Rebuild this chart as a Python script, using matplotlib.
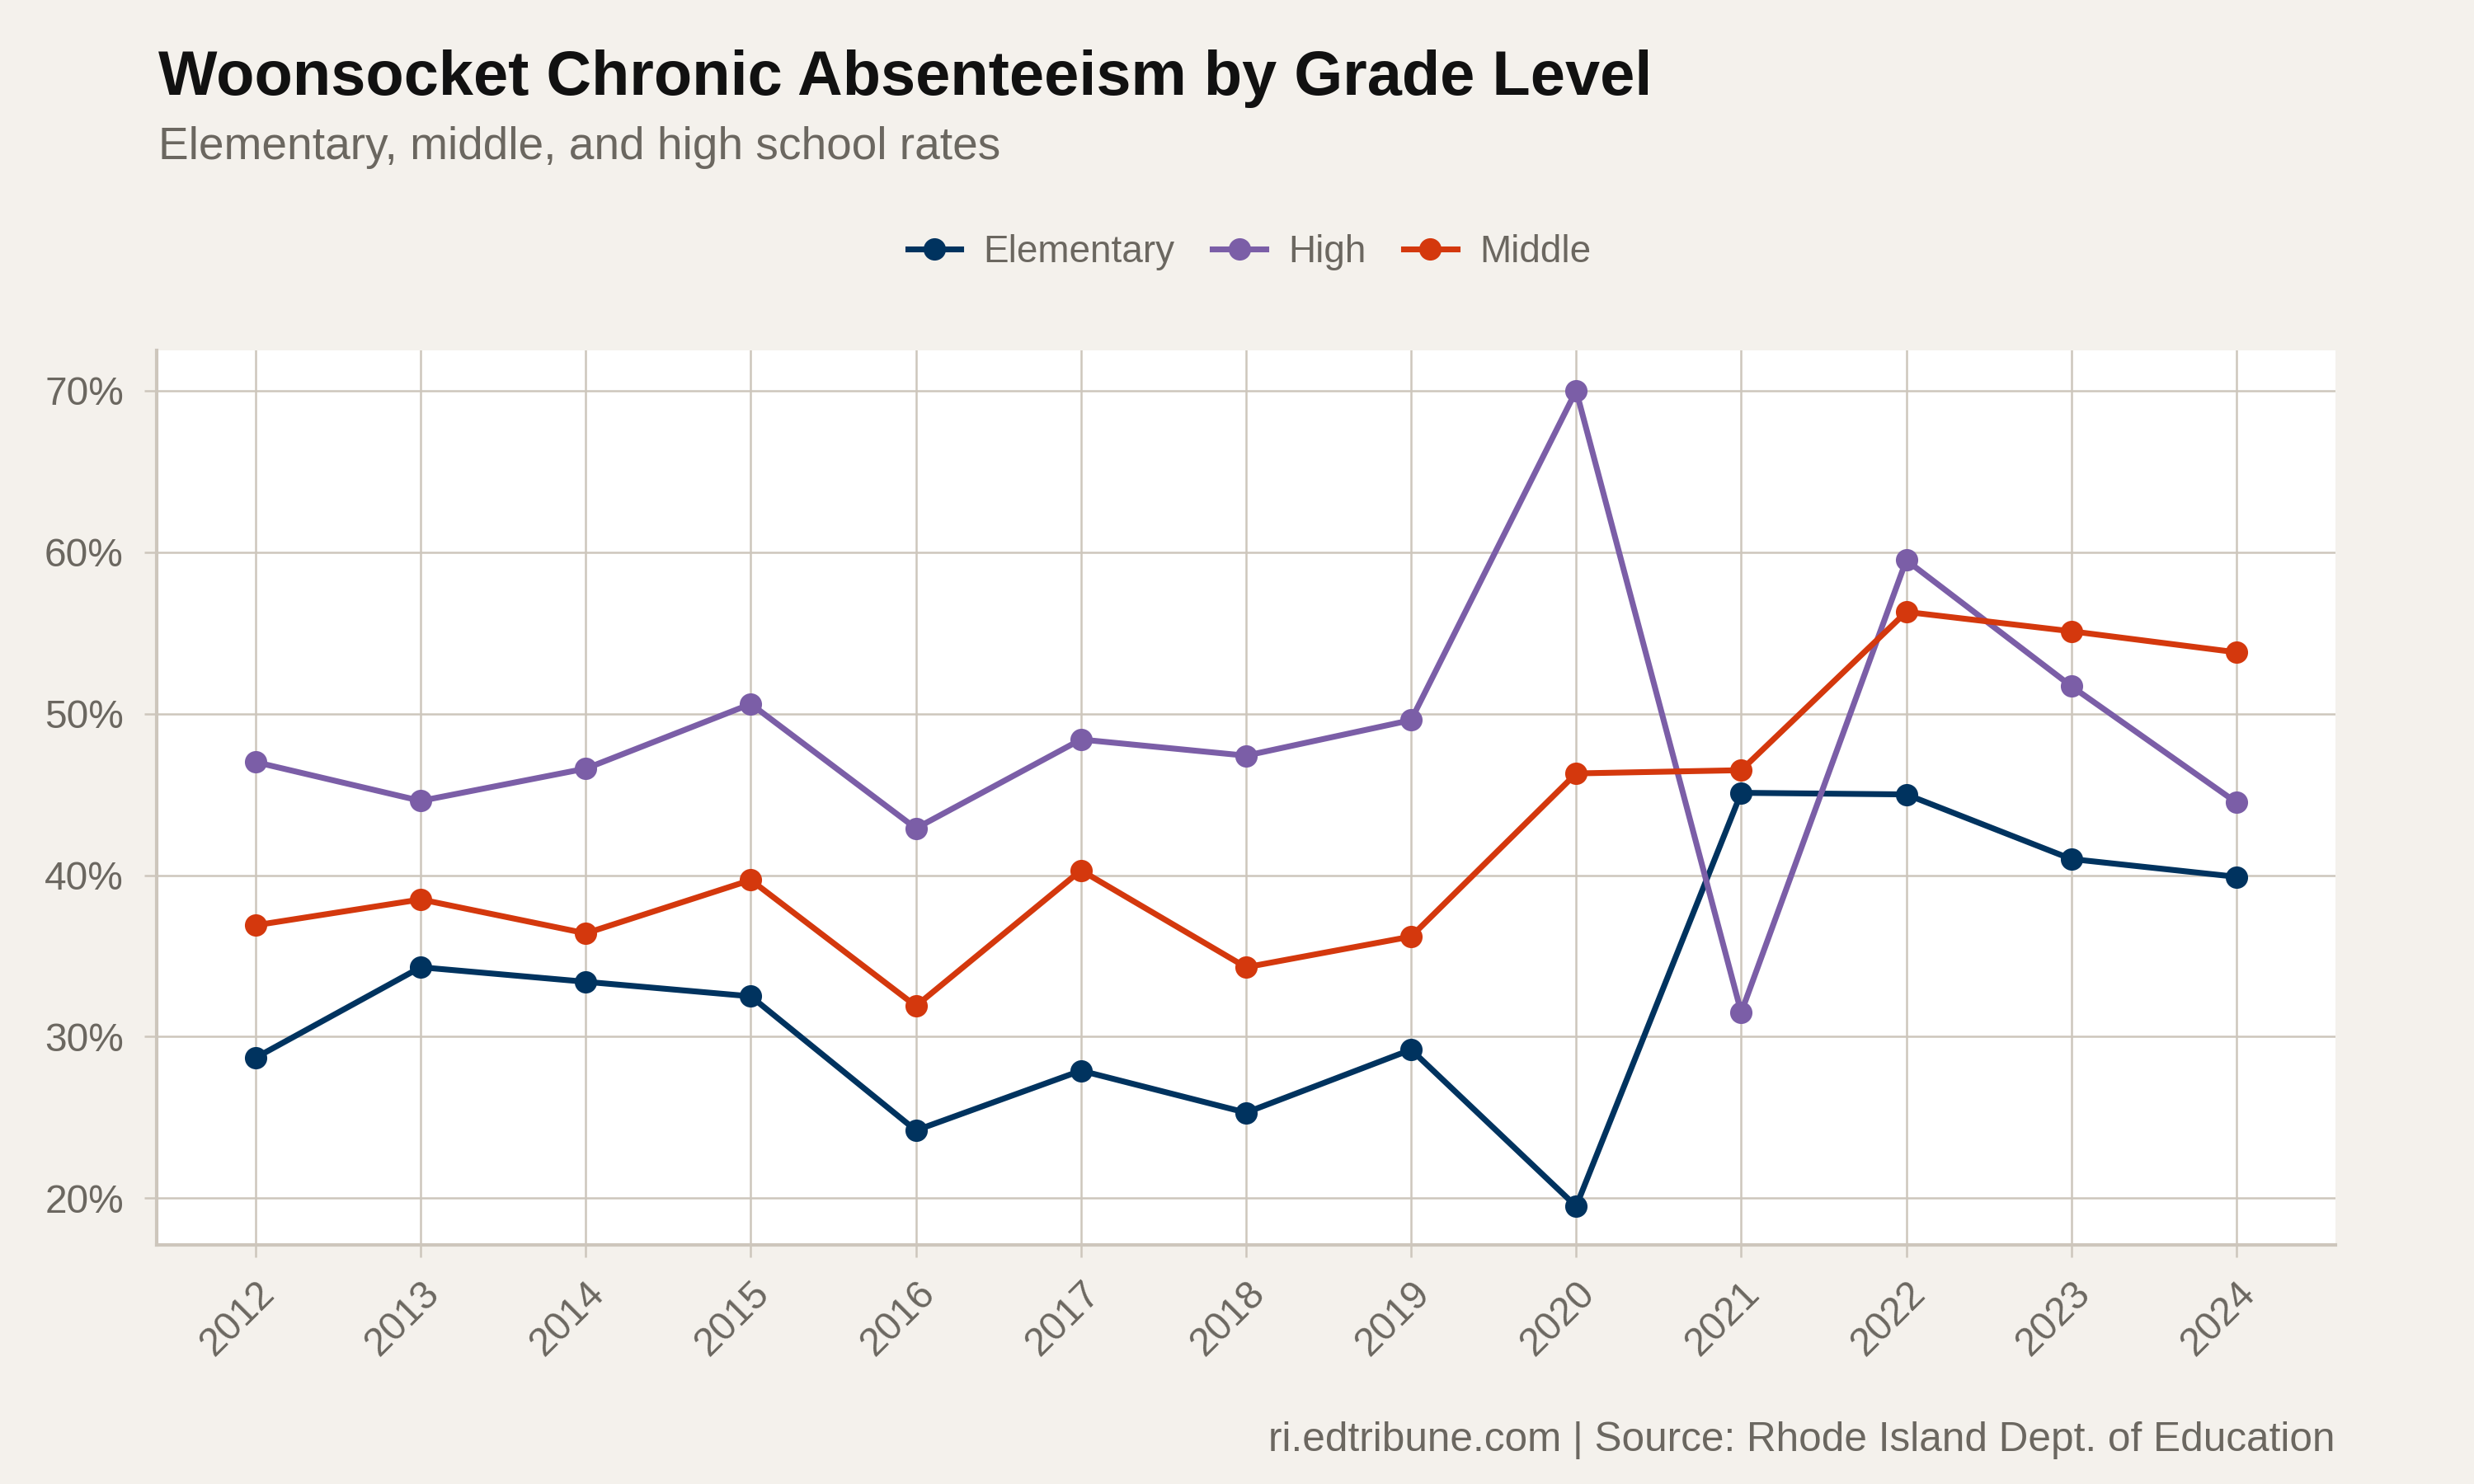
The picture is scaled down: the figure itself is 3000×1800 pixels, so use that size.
import matplotlib.pyplot as plt
from matplotlib.ticker import FuncFormatter

plt.rcParams['font.family'] = ['Liberation Sans', 'DejaVu Sans']

years = list(range(2012, 2025))
elementary = [28.7, 34.3, 33.4, 32.5, 24.2, 27.9, 25.3, 29.2, 19.5, 45.1, 45.0, 41.0, 39.9]
high = [47.0, 44.6, 46.6, 50.6, 42.9, 48.4, 47.4, 49.6, 70.0, 31.5, 59.5, 51.7, 44.5]
middle = [36.9, 38.5, 36.4, 39.7, 31.9, 40.3, 34.3, 36.2, 46.3, 46.5, 56.3, 55.1, 53.8]

series = [("Elementary", elementary, "#00335f"),
          ("High", high, "#7b5ea7"),
          ("Middle", middle, "#d4380d")]

bg = "#f4f1ec"
grid = "#cdc6bc"
txt = "#6b6760"

fig = plt.figure(figsize=(10, 6), dpi=300, facecolor=bg)
ax = fig.add_axes([0.0633, 0.161, 0.8807, 0.603])
ax.set_facecolor("white")

for name, vals, col in series:
    ax.plot(years, vals, color=col, lw=1.7, marker="o", ms=5.5, label=name, zorder=3)

ax.set_xlim(2011.4, 2024.6)
ax.set_ylim(17.1, 72.5)
ax.set_xticks(years)
ax.set_yticks([20, 30, 40, 50, 60, 70])
ax.yaxis.set_major_formatter(FuncFormatter(lambda v, p: f"{v:.0f}%"))
ax.grid(True, color=grid, lw=0.6, zorder=0)

for s in ["top", "right"]:
    ax.spines[s].set_visible(False)
for s in ["left", "bottom"]:
    ax.spines[s].set_color(grid)
    ax.spines[s].set_linewidth(1.0)

ax.tick_params(axis="both", colors=grid, length=3.6, width=0.6, labelcolor=txt, labelsize=11.5)
ax.tick_params(axis="y", pad=6)
ax.tick_params(axis="x", pad=5)
plt.setp(ax.get_xticklabels(), rotation=45, ha="right", va="top", rotation_mode="anchor")

fig.text(0.064, 0.936, "Woonsocket Chronic Absenteeism by Grade Level",
         fontsize=18.2, fontweight="bold", color="#111111")
fig.text(0.064, 0.893, "Elementary, middle, and high school rates",
         fontsize=13.2, color=txt)
fig.text(0.944, 0.022, "ri.edtribune.com | Source: Rhode Island Dept. of Education",
         fontsize=11.9, color=txt, ha="right")

fig.legend(loc="center", bbox_to_anchor=(0.505, 0.83), ncol=3, frameon=False,
           fontsize=11, labelcolor=txt, handlelength=1.4, handletextpad=0.6,
           columnspacing=1.0)

fig.savefig("out.png", dpi=300, facecolor=bg)
